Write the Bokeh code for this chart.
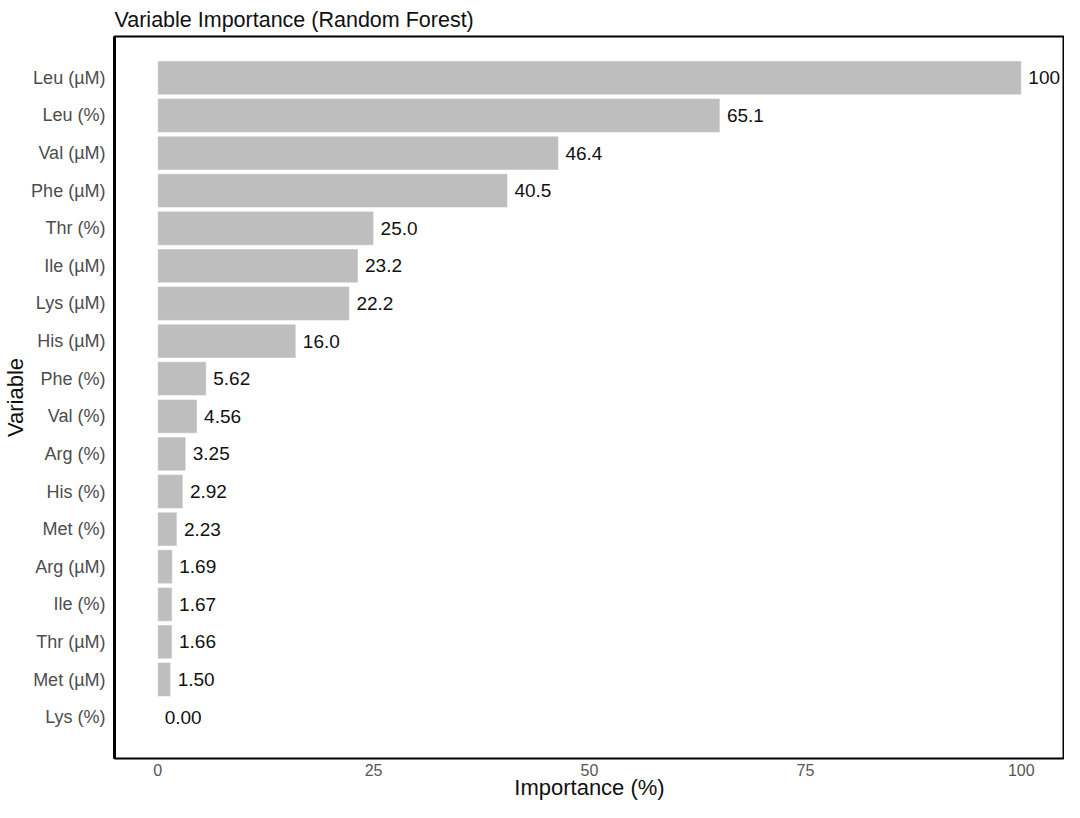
from bokeh.plotting import figure
from bokeh.models import ColumnDataSource, FactorRange, Range1d, FixedTicker
from bokeh.core.properties import value
from bokeh.embed import file_html
from bokeh.resources import INLINE

variables = ["Leu (µM)", "Leu (%)", "Val (µM)", "Phe (µM)", "Thr (%)", "Ile (µM)",
             "Lys (µM)", "His (µM)", "Phe (%)", "Val (%)", "Arg (%)", "His (%)",
             "Met (%)", "Arg (µM)", "Ile (%)", "Thr (µM)", "Met (µM)", "Lys (%)"]
importance = [100, 65.1, 46.4, 40.5, 25.0, 23.2, 22.2, 16.0, 5.62, 4.56, 3.25, 2.92,
              2.23, 1.69, 1.67, 1.66, 1.50, 0.00]
x_ticks = [0, 25, 50, 75, 100]


def fmt(v):
    if v >= 100:
        return f"{v:.0f}"
    if v >= 10:
        return f"{v:.1f}"
    return f"{v:.2f}"


labels = [fmt(v) for v in importance]
src = ColumnDataSource(dict(var=variables, imp=importance, lab=labels))

FONT = "Liberation Sans"

p = figure(width=1064, height=802, output_backend="svg", toolbar_location=None,
           y_range=FactorRange(factors=variables[::-1], range_padding=1.2 / 18),
           x_range=Range1d(-5, 105),
           title="Variable Importance (Random Forest)",
           min_border_left=105, min_border_right=0, min_border_top=0, min_border_bottom=0)

p.hbar(y="var", right="imp", left=0, height=0.9, source=src,
       fill_color="#BEBEBE", line_color="white", line_width=0.5)
p.text(x="imp", y="var", text="lab", source=src, x_offset=7,
       text_font=value(FONT), text_font_size="19px", text_color="#111111",
       text_baseline="middle", text_align="left")

p.title.text_font = FONT
p.title.text_font_size = "21.5px"
p.title.text_font_style = "normal"
p.title.text_color = "#111111"
p.title.offset = 0
p.title.standoff = 10

p.outline_line_color = "black"
p.outline_line_width = 2
p.background_fill_color = "white"
p.border_fill_color = "white"
p.xgrid.visible = False
p.ygrid.visible = False

p.xaxis.ticker = FixedTicker(ticks=x_ticks)
p.xaxis.axis_label = "Importance (%)"
p.yaxis.axis_label = "Variable"
for ax in (p.xaxis, p.yaxis):
    ax.major_tick_line_color = None
    ax.minor_tick_line_color = None
    ax.major_tick_out = 0
    ax.major_tick_in = 0
    ax.minor_tick_out = 0
    ax.minor_tick_in = 0
    ax.major_label_text_font = FONT
    ax.axis_label_text_font = FONT
    ax.axis_label_text_font_style = "normal"
    ax.axis_label_text_color = "#111111"
    ax.axis_label_text_font_size = "22px"
p.xaxis.major_label_text_font_size = "16px"
p.xaxis.major_label_text_color = "#555555"
p.yaxis.major_label_text_font_size = "18px"
p.yaxis.major_label_text_color = "#4d4d4d"
p.xaxis.axis_line_color = None
p.yaxis.axis_line_color = "black"
p.yaxis.axis_line_width = 3
p.xaxis.major_label_standoff = 5
p.xaxis.axis_label_standoff = -4
p.yaxis.major_label_standoff = 9
p.yaxis.axis_label_standoff = 0

open("out.html", "w").write(file_html(p, INLINE))
